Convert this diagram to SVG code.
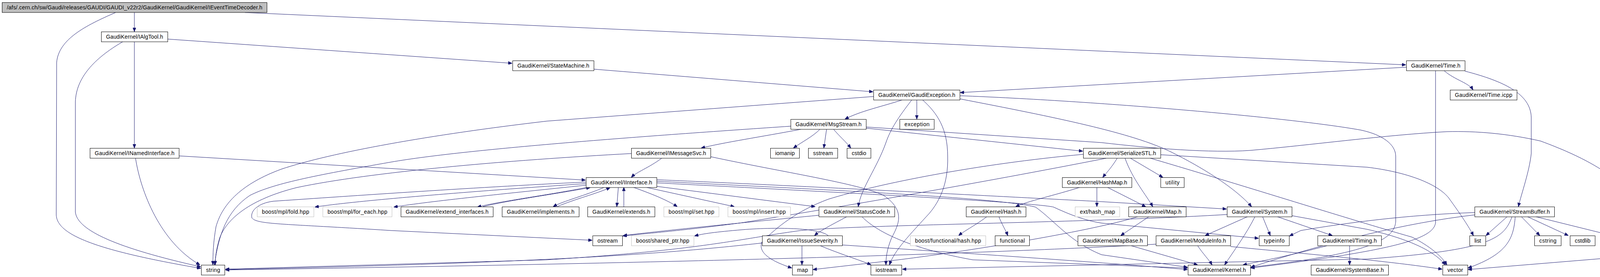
<svg xmlns="http://www.w3.org/2000/svg" width="4282" height="709" viewBox="0 0 4282 709">
<style>
.n rect{fill:#fff;stroke:#000;stroke-width:1}
.g rect{stroke:#bfbfbf}
.r rect{fill:#bfbfbf}
text{font-family:"Liberation Sans",Arial,Helvetica,sans-serif;font-size:14px;text-anchor:middle;fill:#000}
.e path{fill:none;stroke:#191970;stroke-width:1;marker-end:url(#a)}
</style>
<defs>
<marker id="a" viewBox="0 0 10 8" refX="10" refY="4" markerWidth="10" markerHeight="8" markerUnits="userSpaceOnUse" orient="auto"><path d="M0,0 L10,4 L0,8 z" fill="#191970" stroke="#191970" stroke-width="1"/></marker>
</defs>
<rect width="4282" height="709" fill="#fff"/>
<g id="connectors" class="e">
<path d="M344,32 L344,81"/>
<path d="M296,32 C220,65 150,100 145,160 L144,550 C146,600 240,640 514,687"/>
<path d="M627,32 L3599,166"/>
<path d="M344,107 L344,379"/>
<path d="M314,107 C240,150 195,200 193,260 L193,543 C198,590 300,635 514,683"/>
<path d="M429,100 L1311,162"/>
<path d="M458,399 L1499,461"/>
<path d="M347,405 C360,490 410,620 512,678"/>
<path d="M1520,177 L2235,235"/>
<path d="M3600,172 L2458,237"/>
<path d="M3697,181 C3725,205 3760,212 3771,230"/>
<path d="M3675,181 L3675,570 C3670,610 3580,640 3202,686"/>
<path d="M3750,182 C3850,208 3918,240 3920,300 L3920,393 C3915,440 3895,495 3887,529"/>
<path d="M2309,256 C2260,272 2200,285 2163,305"/>
<path d="M2347,256 L2347,305"/>
<path d="M2334,256 C2300,300 2280,330 2268,365 C2245,430 2205,480 2197,529"/>
<path d="M2362,256 C2400,290 2426,330 2426,400 C2428,470 2405,515 2380,545 C2330,600 2290,640 2277,678"/>
<path d="M2236,247 L1400,310 C1100,345 850,390 720,433 C620,470 570,520 553,580 C546,620 545,650 545,678"/>
<path d="M2457,253 C2700,300 2900,340 3000,390 C3100,440 3170,490 3204,529"/>
<path d="M2457,245 C2800,258 3300,300 3484,333 C3540,345 3573,370 3573,400 L3573,567 C3570,615 3500,650 3202,684"/>
<path d="M2050,331 C1950,350 1850,365 1795,379"/>
<path d="M2099,331 C2080,350 2055,362 2031,379"/>
<path d="M2116,331 L2109,379"/>
<path d="M2134,331 C2150,350 2165,362 2178,379"/>
<path d="M2024,323 C1700,345 1200,380 1000,415 C800,450 700,470 640,500 C580,540 560,600 549,678"/>
<path d="M2217,328 L2772,387"/>
<path d="M2217,325 L2820,365 C2950,380 3100,392 3200,385 C3350,372 3550,345 3704,337 C3780,335 3860,342 3944,361 C4050,400 4120,440 4163,485 C4210,550 4250,590 4274,615 C4280,640 4200,652 4123,660 L3758,690"/>
<path d="M1694,405 C1660,430 1630,440 1616,454"/>
<path d="M1616,393 C1300,410 950,440 760,480 C640,510 580,560 562,610 C553,640 551,660 551,678"/>
<path d="M1819,401 C2000,440 2200,470 2262,500 C2320,540 2300,575 2282,610 C2270,640 2268,660 2268,678"/>
<path d="M1500,470 C1200,490 900,515 806,530"/>
<path d="M1500,474 C1300,495 1100,515 1008,530"/>
<path d="M1506,479 C1400,500 1280,515 1222,530"/>
<path d="M1236,529 C1300,513 1420,497 1511,480"/>
<path d="M1548,479 C1500,500 1440,515 1416,529"/>
<path d="M1426,529 C1470,510 1530,495 1562,480"/>
<path d="M1583,479 L1579,529"/>
<path d="M1597,529 L1597,479"/>
<path d="M1620,479 C1680,500 1712,515 1734,529"/>
<path d="M1652,479 L1880,529"/>
<path d="M1681,477 L2087,529"/>
<path d="M1681,460 C2100,478 2600,505 2800,515 L3140,535"/>
<path d="M1681,464 C2100,485 2550,505 2651,530 C2700,565 2740,620 2820,652 L3040,684"/>
<path d="M1681,468 C2100,490 2650,518 2697,530 C2740,550 2780,565 2820,571 L3222,610"/>
<path d="M1500,466 C1200,480 850,505 700,515 C660,520 640,540 645,558 C660,575 720,572 1000,590 L1516,615"/>
<path d="M2169,554 C2130,575 2100,590 2085,603"/>
<path d="M2096,551 C1900,570 1700,590 1595,603"/>
<path d="M2206,554 C2250,600 2350,640 2490,665 L3040,686"/>
<path d="M2053,629 L2053,678"/>
<path d="M2100,629 C2150,650 2200,665 2230,678"/>
<path d="M2120,603 C2100,585 2000,580 1900,588 C1830,594 1800,598 1778,604"/>
<path d="M1951,622 C1700,650 1400,672 577,690"/>
<path d="M2156,627 C2500,650 2800,670 3040,690"/>
<path d="M2860,405 C2845,430 2830,445 2823,454"/>
<path d="M2894,405 L2977,454"/>
<path d="M2880,405 C2900,460 2935,500 2951,529"/>
<path d="M2971,396 L3500,428 C3600,440 3680,470 3709,507 C3740,550 3760,580 3772,603"/>
<path d="M2945,405 C3200,480 3450,560 3615,607 C3660,630 3690,655 3704,678"/>
<path d="M2773,395 C2500,420 2250,470 2120,510 C2040,540 1990,580 1950,620 C1940,650 1980,670 2027,686"/>
<path d="M2832,405 C2500,470 2150,530 1900,570 C1750,590 1650,598 1594,604"/>
<path d="M2766,479 C2700,500 2630,515 2600,529"/>
<path d="M2808,479 L2808,529"/>
<path d="M2834,479 L2933,529"/>
<path d="M2527,554 C2500,575 2470,590 2454,603"/>
<path d="M2557,554 C2565,575 2575,590 2580,603"/>
<path d="M2942,554 L2869,603"/>
<path d="M2915,554 C2800,590 2500,640 2300,665 L2081,690"/>
<path d="M2896,629 L3066,678"/>
<path d="M3195,554 L3085,603"/>
<path d="M3213,554 C3190,600 3160,640 3135,678"/>
<path d="M3232,554 L3252,603"/>
<path d="M3268,554 L3411,603"/>
<path d="M3307,552 L3500,587 C3600,610 3670,640 3700,678"/>
<path d="M3141,549 C2800,570 2200,575 2050,590 C1900,610 1800,640 1400,665 L577,689"/>
<path d="M3066,629 C3080,650 3095,665 3103,678"/>
<path d="M3150,631 C3400,655 3550,668 3692,689"/>
<path d="M2959,625 C2500,650 1800,672 577,691"/>
<path d="M3397,629 C3300,655 3220,670 3182,678"/>
<path d="M3455,629 L3455,678"/>
<path d="M3859,554 L3804,603"/>
<path d="M3894,554 L3942,603"/>
<path d="M3909,554 L4015,603"/>
<path d="M3929,554 L4127,603"/>
<path d="M3879,554 C3875,610 3860,650 3758,686"/>
<path d="M3871,554 C3850,610 3820,640 3500,663 L2310,689"/>
<path d="M3775,544 C3600,550 3450,570 3330,590 L3301,604"/>
<path d="M3775,550 C3600,570 3400,620 3202,684"/>
<path d="M4183,629 L4183,678"/>
</g>
<g id="n_top" class="n r"><rect x="5.5" y="6.5" width="678" height="25.5"/><text x="344.5" y="24" textLength="654">/afs/.cern.ch/sw/Gaudi/releases/GAUDI/GAUDI_v22r2/GaudiKernel/GaudiKernel/IEventTimeDecoder.h</text></g>
<g id="n_ialgtool" class="n"><rect x="259.5" y="81.5" width="170" height="25.5"/><text x="344.5" y="99" textLength="146">GaudiKernel/IAlgTool.h</text></g>
<g id="n_statemachine" class="n"><rect x="1312.5" y="155.5" width="208" height="25.5"/><text x="1416.5" y="173" textLength="184">GaudiKernel/StateMachine.h</text></g>
<g id="n_time" class="n"><rect x="3600.5" y="155.5" width="150" height="25.5"/><text x="3675.5" y="173" textLength="126">GaudiKernel/Time.h</text></g>
<g id="n_gaudiexception" class="n"><rect x="2236.5" y="230.5" width="221" height="25.5"/><text x="2347" y="248" textLength="197">GaudiKernel/GaudiException.h</text></g>
<g id="n_timeicpp" class="n"><rect x="3712.5" y="230.5" width="171" height="25.5"/><text x="3798" y="248" textLength="147">GaudiKernel/Time.icpp</text></g>
<g id="n_msgstream" class="n"><rect x="2024.5" y="305.5" width="193" height="25.5"/><text x="2121" y="323" textLength="169">GaudiKernel/MsgStream.h</text></g>
<g id="n_exception" class="n"><rect x="2303.5" y="305.5" width="88" height="25.5"/><text x="2347.5" y="323" textLength="64">exception</text></g>
<g id="n_inamedinterface" class="n"><rect x="230.5" y="379.5" width="228" height="25.5"/><text x="344.5" y="397" textLength="204">GaudiKernel/INamedInterface.h</text></g>
<g id="n_imessagesvc" class="n"><rect x="1616.5" y="379.5" width="203" height="25.5"/><text x="1718" y="397" textLength="179">GaudiKernel/IMessageSvc.h</text></g>
<g id="n_iomanip" class="n"><rect x="1972.5" y="379.5" width="74" height="25.5"/><text x="2009.5" y="397" textLength="50">iomanip</text></g>
<g id="n_sstream" class="n"><rect x="2069.5" y="379.5" width="75" height="25.5"/><text x="2107" y="397" textLength="51">sstream</text></g>
<g id="n_cstdio" class="n"><rect x="2168.5" y="379.5" width="61" height="25.5"/><text x="2199" y="397" textLength="37">cstdio</text></g>
<g id="n_serializestl" class="n"><rect x="2773.5" y="379.5" width="198" height="25.5"/><text x="2872.5" y="397" textLength="174">GaudiKernel/SerializeSTL.h</text></g>
<g id="n_iinterface" class="n"><rect x="1500.5" y="454.5" width="181" height="25.5"/><text x="1591" y="472" textLength="157">GaudiKernel/IInterface.h</text></g>
<g id="n_hashmap" class="n"><rect x="2719.5" y="454.5" width="178" height="25.5"/><text x="2808.5" y="472" textLength="154">GaudiKernel/HashMap.h</text></g>
<g id="n_utility" class="n"><rect x="2971.5" y="454.5" width="60" height="25.5"/><text x="3001.5" y="472" textLength="36">utility</text></g>
<g id="n_fold" class="n g"><rect x="658.5" y="529.5" width="145" height="25.5"/><text x="731" y="547" textLength="121">boost/mpl/fold.hpp</text></g>
<g id="n_foreach" class="n g"><rect x="826.5" y="529.5" width="177" height="25.5"/><text x="915" y="547" textLength="153">boost/mpl/for_each.hpp</text></g>
<g id="n_extendinterfaces" class="n"><rect x="1026.5" y="529.5" width="236" height="25.5"/><text x="1144.5" y="547" textLength="212">GaudiKernel/extend_interfaces.h</text></g>
<g id="n_implements" class="n"><rect x="1285.5" y="529.5" width="197" height="25.5"/><text x="1384" y="547" textLength="173">GaudiKernel/implements.h</text></g>
<g id="n_extends" class="n"><rect x="1504.5" y="529.5" width="172" height="25.5"/><text x="1590.5" y="547" textLength="148">GaudiKernel/extends.h</text></g>
<g id="n_set" class="n g"><rect x="1699.5" y="529.5" width="141" height="25.5"/><text x="1770" y="547" textLength="117">boost/mpl/set.hpp</text></g>
<g id="n_insert" class="n g"><rect x="1863.5" y="529.5" width="160" height="25.5"/><text x="1943.5" y="547" textLength="136">boost/mpl/insert.hpp</text></g>
<g id="n_statuscode" class="n"><rect x="2096.5" y="529.5" width="194" height="25.5"/><text x="2193.5" y="547" textLength="170">GaudiKernel/StatusCode.h</text></g>
<g id="n_hash" class="n"><rect x="2473.5" y="529.5" width="153" height="25.5"/><text x="2550" y="547" textLength="129">GaudiKernel/Hash.h</text></g>
<g id="n_exthashmap" class="n g"><rect x="2752.5" y="529.5" width="114" height="25.5"/><text x="2809.5" y="547" textLength="90">ext/hash_map</text></g>
<g id="n_map_h" class="n"><rect x="2889.5" y="529.5" width="147" height="25.5"/><text x="2963" y="547" textLength="123">GaudiKernel/Map.h</text></g>
<g id="n_system" class="n"><rect x="3141.5" y="529.5" width="166" height="25.5"/><text x="3224.5" y="547" textLength="142">GaudiKernel/System.h</text></g>
<g id="n_streambuffer" class="n"><rect x="3775.5" y="529.5" width="204" height="25.5"/><text x="3877.5" y="547" textLength="180">GaudiKernel/StreamBuffer.h</text></g>
<g id="n_ostream" class="n"><rect x="1517.5" y="603.5" width="76" height="25.5"/><text x="1555.5" y="621" textLength="52">ostream</text></g>
<g id="n_sharedptr" class="n g"><rect x="1616.5" y="603.5" width="160" height="25.5"/><text x="1696.5" y="621" textLength="136">boost/shared_ptr.hpp</text></g>
<g id="n_issueseverity" class="n"><rect x="1951.5" y="603.5" width="205" height="25.5"/><text x="2054" y="621" textLength="181">GaudiKernel/IssueSeverity.h</text></g>
<g id="n_functionalhash" class="n g"><rect x="2330.5" y="603.5" width="193" height="25.5"/><text x="2427" y="621" textLength="169">boost/functional/hash.hpp</text></g>
<g id="n_functional" class="n"><rect x="2547.5" y="603.5" width="88" height="25.5"/><text x="2591.5" y="621" textLength="64">functional</text></g>
<g id="n_mapbase" class="n"><rect x="2759.5" y="603.5" width="178" height="25.5"/><text x="2848.5" y="621" textLength="154">GaudiKernel/MapBase.h</text></g>
<g id="n_moduleinfo" class="n"><rect x="2959.5" y="603.5" width="191" height="25.5"/><text x="3055" y="621" textLength="167">GaudiKernel/ModuleInfo.h</text></g>
<g id="n_typeinfo" class="n"><rect x="3223.5" y="603.5" width="77" height="25.5"/><text x="3262" y="621" textLength="53">typeinfo</text></g>
<g id="n_timing" class="n"><rect x="3373.5" y="603.5" width="163" height="25.5"/><text x="3455" y="621" textLength="139">GaudiKernel/Timing.h</text></g>
<g id="n_list" class="n"><rect x="3762.5" y="603.5" width="41" height="25.5"/><text x="3783" y="621" textLength="17">list</text></g>
<g id="n_cstring" class="n"><rect x="3928.5" y="603.5" width="68" height="25.5"/><text x="3962.5" y="621" textLength="44">cstring</text></g>
<g id="n_cstdlib" class="n"><rect x="4019.5" y="603.5" width="64" height="25.5"/><text x="4051.5" y="621" textLength="40">cstdlib</text></g>
<g id="n_swab" class="n"><rect x="4107.5" y="603.5" width="152" height="25.5"/><text x="4183.5" y="621" textLength="128">GaudiKernel/swab.h</text></g>
<g id="n_string" class="n"><rect x="515.5" y="678.5" width="60" height="25.5"/><text x="545.5" y="696" textLength="36">string</text></g>
<g id="n_map" class="n"><rect x="2028.5" y="678.5" width="52" height="25.5"/><text x="2054.5" y="696" textLength="28">map</text></g>
<g id="n_iostream" class="n"><rect x="2229.5" y="678.5" width="79" height="25.5"/><text x="2269" y="696" textLength="55">iostream</text></g>
<g id="n_kernel" class="n"><rect x="3041.5" y="678.5" width="160" height="25.5"/><text x="3121.5" y="696" textLength="136">GaudiKernel/Kernel.h</text></g>
<g id="n_systembase" class="n"><rect x="3356.5" y="678.5" width="198" height="25.5"/><text x="3455.5" y="696" textLength="174">GaudiKernel/SystemBase.h</text></g>
<g id="n_vector" class="n"><rect x="3693.5" y="678.5" width="64" height="25.5"/><text x="3725.5" y="696" textLength="40">vector</text></g>
<g id="n_unistd" class="n g"><rect x="4145.5" y="678.5" width="76" height="25.5"/><text x="4183.5" y="696" textLength="52">unistd.h</text></g>
</svg>
